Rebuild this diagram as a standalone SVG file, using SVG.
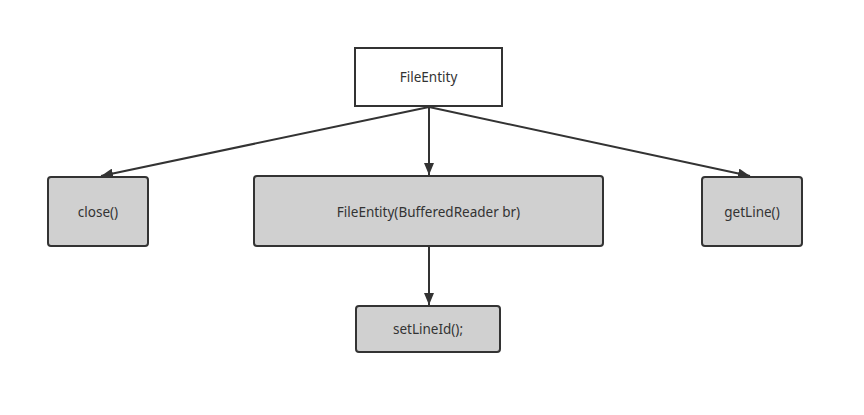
<svg xmlns="http://www.w3.org/2000/svg" width="864" height="415" viewBox="0 0 864 415">
<defs>
<style>
.box{fill:#d0d0d0;stroke:#333;stroke-width:2}
.top{fill:#fff;stroke:#333;stroke-width:2}
.t{font-family:"Noto Sans","Open Sans",sans-serif;font-size:13.5px;fill:#333;text-anchor:middle;dominant-baseline:central}
.c{stroke:#333;stroke-width:2;fill:none;marker-end:url(#ah)}
</style>
<marker id="ah" viewBox="0 0 12 10" refX="12" refY="5" markerWidth="12" markerHeight="10" markerUnits="userSpaceOnUse" orient="auto">
<path d="M0,0 L12,5 L0,10 z" fill="#333"/>
</marker>
</defs>
<rect width="864" height="415" fill="#fff"/>
<g id="connectors">
<path class="c" d="M429,107 L101,176"/>
<path class="c" d="M429,107 L429,175"/>
<path class="c" d="M429,107 L750,176"/>
<path class="c" d="M429,247 L429,305"/>
</g>
<g id="fileentity">
<rect class="top" x="355" y="48" width="147" height="58"/>
<text class="t" x="428.5" y="77">FileEntity</text>
</g>
<g id="close">
<rect class="box" x="48" y="177" width="100" height="69" rx="3"/>
<text class="t" x="98" y="211.5">close()</text>
</g>
<g id="constructor">
<rect class="box" x="254" y="176" width="349" height="70" rx="3"/>
<text class="t" x="428.5" y="211.5">FileEntity(BufferedReader br)</text>
</g>
<g id="getline">
<rect class="box" x="702" y="177" width="100" height="69" rx="3"/>
<text class="t" x="752" y="211.5">getLine()</text>
</g>
<g id="setlineid">
<rect class="box" x="356" y="306" width="144" height="46" rx="3"/>
<text class="t" x="428" y="329">setLineId();</text>
</g>
</svg>
